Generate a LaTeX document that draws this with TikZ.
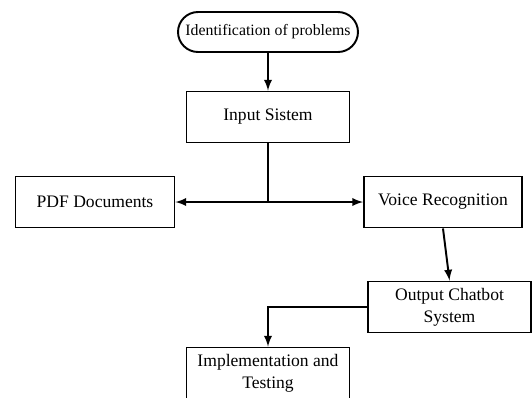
\documentclass[tikz,border=0pt]{standalone}
\usepackage{fontspec}
\setmainfont{Liberation Serif}
\usepackage{tikz}
\usetikzlibrary{arrows}

\begin{document}
\begin{tikzpicture}[x=0.02cm,y=-0.02cm,>=latex]
\tikzstyle{every node}=[font=\fontsize{10}{12.5}\selectfont]
\tikzstyle{box}=[draw,line width=1.1pt,minimum width=3.26cm,minimum height=1.02cm,align=center]
\tikzstyle{term}=[draw,line width=1.1pt,rounded corners=0.4cm,minimum width=3.6cm,minimum height=0.8cm,
  font=\fontsize{9}{11}\selectfont]
\tikzstyle{link}=[->,line width=1.1pt]
\useasboundingbox (0,0) rectangle (532,397);
\draw
  (268, 32) node [term] (idf) {Identification of problems}
  (268,117) node [box]  (inp) {Input Sistem}
  ( 95,202) node [box,minimum width=3.18cm] (pdf) {PDF Documents}
  (443,202) node [box,minimum width=3.16cm] (voi) {Voice Recognition}
  (449.5,307) node [box] (out) {Output Chatbot\\System}
  (268,373) node [box]  (imp) {Implementation and\\Testing}
;
\coordinate (jn) at (268,202);
\draw[link] (idf) -- (inp);
\draw[line width=1.1pt] (inp) -- (jn);
\draw[link] (jn) -- (pdf);
\draw[link] (jn) -- (voi);
\draw[link] (voi.south) -- (out.north);
\draw[link] (out.west) -| (imp.north);
\end{tikzpicture}
\end{document}
